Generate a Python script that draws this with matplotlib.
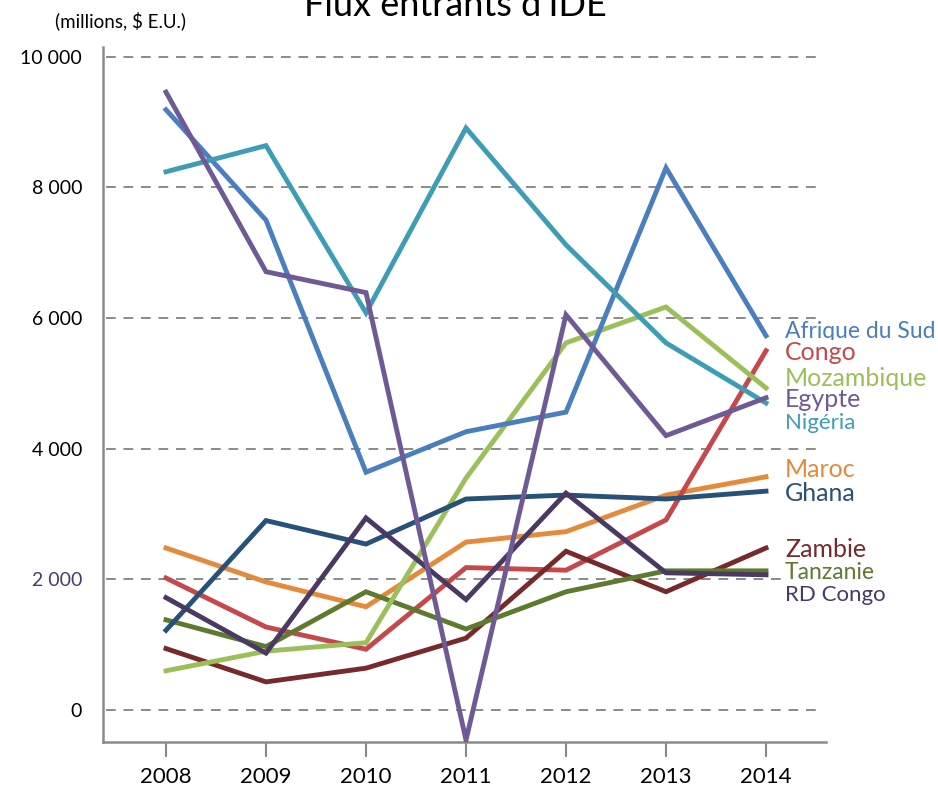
import matplotlib
matplotlib.use("Agg")
import matplotlib.pyplot as plt
from matplotlib.ticker import FuncFormatter

plt.rcParams['font.family'] = ['Lato', 'DejaVu Sans']

# donnees (millions de $ E.U.)
years = [2008, 2009, 2010, 2011, 2012, 2013, 2014]
countries = ['Afrique du Sud', 'Congo', 'Mozambique', 'Egypte', 'Nigéria',
             'Maroc', 'Ghana', 'Zambie', 'Tanzanie', 'RD Congo']
afrique_du_sud = [9190, 7500, 3640, 4260, 4560, 8300, 5730]
congo = [2020, 1270, 930, 2180, 2140, 2910, 5500]
mozambique = [600, 900, 1030, 3550, 5620, 6170, 4930]
egypte = [9460, 6710, 6390, -460, 6050, 4200, 4780]
nigeria = [8240, 8640, 6080, 8910, 7120, 5620, 4700]
maroc = [2480, 1960, 1580, 2570, 2730, 3290, 3570]
ghana = [1220, 2900, 2540, 3230, 3290, 3230, 3350]
zambie = [940, 430, 640, 1100, 2430, 1810, 2480]
tanzanie = [1380, 970, 1810, 1240, 1810, 2130, 2130]
rd_congo = [1720, 870, 2940, 1690, 3320, 2100, 2070]

colors = ['#4a7ebf', '#c5494a', '#9bbf5b', '#6f5a95', '#3e9db4',
          '#e5893b', '#275179', '#77292b', '#5d7a2f', '#4a3963']
label_y = [5790, 5470, 5070, 4750, 4400, 3680, 3320, 2450, 2100, 1760]
label_size = [16.5, 18, 18, 18, 16, 18, 18, 18, 16.5, 16]

series = [afrique_du_sud, congo, mozambique, egypte, nigeria,
          maroc, ghana, zambie, tanzanie, rd_congo]

fig = plt.figure(figsize=(9.38, 7.89), dpi=100)
ax = fig.add_axes([0.1098, 0.0596, 0.7708, 0.8808])

grey = '#8a8a8a'
for v in range(0, 10001, 2000):
    ax.plot([2007.4, 2014.52], [v, v], color=grey, lw=1.4, ls=(0, (5, 4)), zorder=1)

# ordre de dessin
order = [5, 1, 7, 8, 2, 6, 9, 0, 4, 3]
for i in order:
    ax.plot(years, series[i], color=colors[i], lw=3.5, zorder=3,
            solid_joinstyle='miter')

for name, c, y, s in zip(countries, colors, label_y, label_size):
    ax.text(2014.19, y, name, color=c, fontsize=s, va='center', ha='left', zorder=4,
            bbox=dict(facecolor='white', edgecolor='none', pad=0.5))

ax.set_xlim(2007.37, 2014.6)
ax.set_ylim(-490, 10150)
ax.set_xticks(years)
ax.set_yticks(range(0, 10001, 2000))
ax.yaxis.set_major_formatter(FuncFormatter(lambda v, p: '{:,}'.format(int(v)).replace(',', ' ')))
ax.tick_params(axis='x', direction='out', length=11, width=1.5, color=grey,
               labelsize=16, pad=7)
ax.tick_params(axis='y', length=0, labelsize=14, pad=15)
for lab in ax.get_yticklabels():
    if lab.get_text() == '2 000':
        lab.set_color('#4b3b66')

for side in ['top', 'right']:
    ax.spines[side].set_visible(False)
for side in ['left', 'bottom']:
    ax.spines[side].set_color(grey)
    ax.spines[side].set_linewidth(1.8)

fig.text(0.128, 0.974, '(millions, \\$ E.U.)', fontsize=13.5, ha='center', va='center')
fig.text(0.485, 0.993, "Flux entrants d'IDE", fontsize=26, ha='center', va='center')

fig.savefig('out.png', dpi=100)
